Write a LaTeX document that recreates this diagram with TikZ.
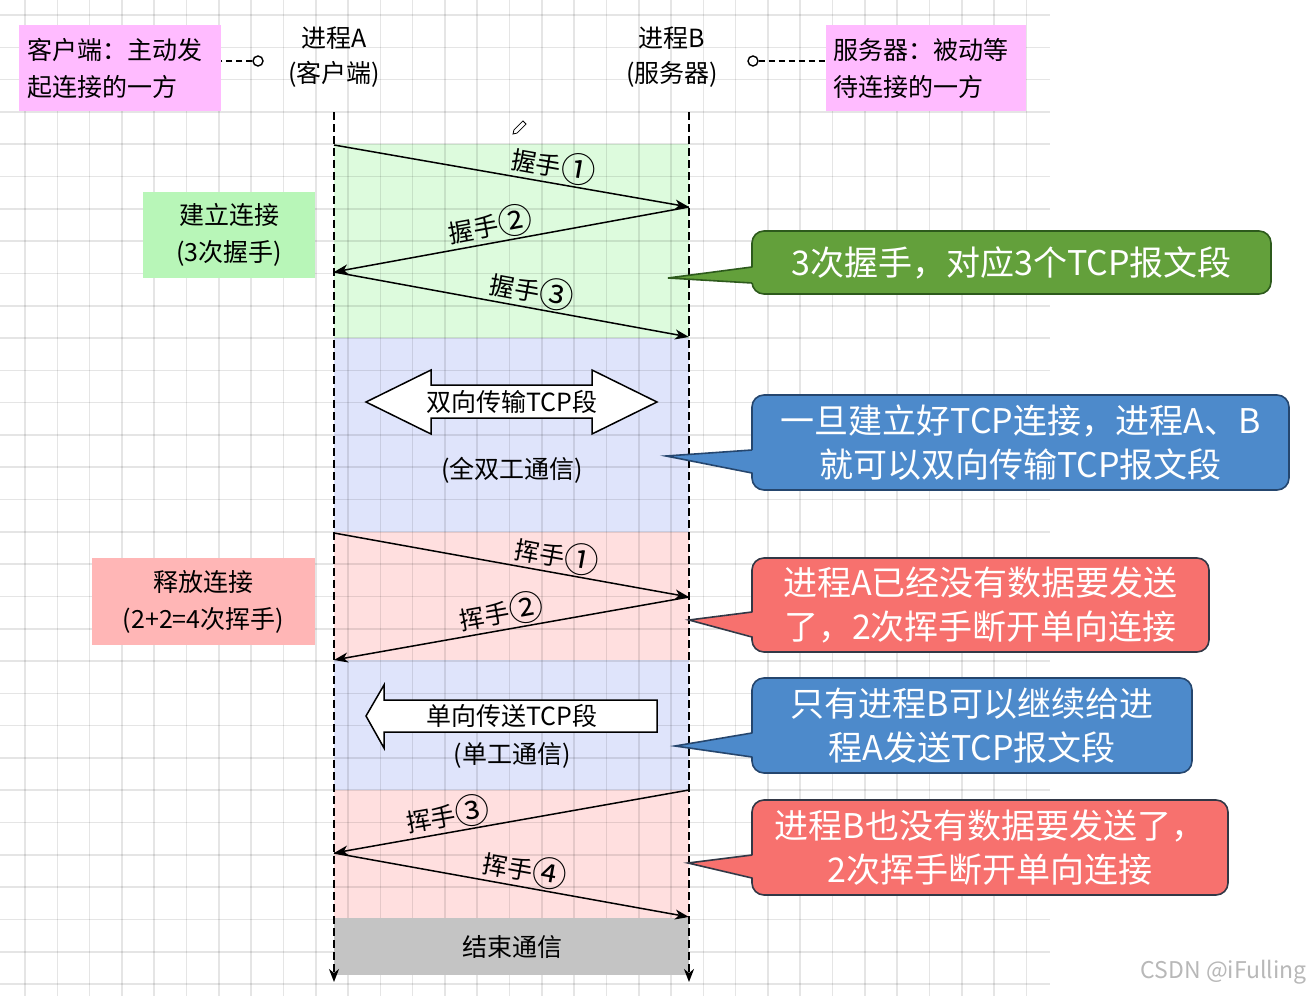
\documentclass[tikz,border=0pt]{standalone}
\usepackage{fontspec}
\usepackage{graphicx}
\setmainfont{Noto Sans CJK SC}
\newcommand\cnum[1]{\raisebox{-0.1em}{\scalebox{1.38}{#1}}}
\usetikzlibrary{arrows.meta}
\definecolor{bandgreen}{RGB}{221,251,221}
\definecolor{bandblue}{RGB}{223,228,251}
\definecolor{bandpink}{RGB}{255,223,223}
\definecolor{bandgray}{RGB}{196,196,196}
\definecolor{boxpink}{RGB}{255,187,255}
\definecolor{boxgreen}{RGB}{184,246,184}
\definecolor{boxred}{RGB}{255,182,182}
\definecolor{cgreen}{RGB}{99,160,59}
\definecolor{cgreenb}{RGB}{45,90,28}
\definecolor{cblue}{RGB}{77,138,203}
\definecolor{cblueb}{RGB}{37,70,110}
\definecolor{cred}{RGB}{247,113,110}
\definecolor{credb}{RGB}{50,56,70}
\begin{document}
\begin{tikzpicture}[x=1pt,y=-1pt,
  gridline/.style={draw=black,draw opacity=0.1,line width=1.6pt},
  lbl/.style={font=\fontsize{25}{35}\selectfont,inner sep=0pt,align=center},
  sidebox/.style={font=\fontsize{25}{37}\selectfont,inner sep=0pt},
  lifeline/.style={line width=1.4pt,dash pattern=on 8pt off 4pt,-{Stealth[length=13pt,width=10pt,inset=4pt]}},
  msg/.style={line width=1.5pt,-{Stealth[length=14pt,width=10pt,inset=4pt]}},
  mlabel/.style={font=\fontsize{25}{25}\selectfont,sloped,above,inner sep=1pt},
  conn/.style={line width=1.4pt,dash pattern=on 6pt off 4pt},
  dot/.style={circle,draw,fill=white,inner sep=0pt,minimum size=10pt,line width=1.4pt},
  callout/.style={rounded corners=12pt,line width=1.6pt,text=white,inner sep=0pt,
    font=\fontsize{34}{44}\selectfont,align=center},
  bigarrow/.style={draw=black,fill=white,line width=1.5pt}
]
\useasboundingbox (0,0) rectangle (1310,996);
\fill[white] (0,0) rectangle (1310,996);
% bands
\fill[bandgreen] (334,144) rectangle (689,338);
\fill[bandblue] (334,338) rectangle (689,532);
\fill[bandpink] (334,532) rectangle (689,660);
\fill[bandblue] (334,660) rectangle (689,790);
\fill[bandpink] (334,790) rectangle (689,918);
% grid
\foreach \i in {0,...,31} \draw[gridline] ({25+32.3*\i},0) -- ({25+32.3*\i},996);
\foreach \j in {0,...,30} \draw[gridline] (0,{15+32.3*\j}) -- (1050,{15+32.3*\j});
\fill[bandgray] (334,918) rectangle (689,975);

% headers
\node[lbl] (hA) at (334,57) {进程A\\(客户端)};
\node[lbl] (hB) at (672,57) {进程B\\(服务器)};

% side boxes
\node[sidebox,fill=boxpink,anchor=north west,minimum width=202pt,minimum height=86pt,text width=186pt,align=left] (boxL) at (19,25) {客户端：主动发\\起连接的一方};
\node[sidebox,fill=boxpink,anchor=north west,minimum width=200pt,minimum height=86pt,text width=186pt,align=left] (boxR) at (826,25) {服务器：被动等\\待连接的一方};
\node[dot] (cL) at (258,61) {};
\node[dot] (cR) at (753,61) {};
\draw[conn] (cL.west) -- (cL.west -| boxL.east);
\draw[conn] (cR.east) -- (cR.east -| boxR.west);

\node[sidebox,fill=boxgreen,minimum width=172pt,minimum height=86pt,align=center] (estab) at (229,235) {建立连接\\(3次握手)};
\node[sidebox,fill=boxred,minimum width=223pt,minimum height=87pt,align=center] (release) at (203.5,601.5) {释放连接\\(2+2=4次挥手)};

% lifelines
\coordinate (Atop) at (334,112);
\coordinate (Abot) at (334,982);
\coordinate (Btop) at (689,112);
\coordinate (Bbot) at (689,982);
\draw[lifeline] (Atop) -- (Abot);
\draw[lifeline] (Btop) -- (Bbot);

% handshake
\coordinate (A1) at (334,145);
\coordinate (B1) at (689,207);
\coordinate (A2) at (334,272);
\coordinate (B2) at (689,337);
\draw[msg] (A1) -- node[mlabel,pos=0.61] {握手\cnum{①}} (B1);
\draw[msg] (B1) -- node[mlabel,pos=0.55] {握手\cnum{②}} (A2);
\draw[msg] (A2) -- node[mlabel,pos=0.55] {握手\cnum{③}} (B2);

% full duplex
\draw[bigarrow] (366,402) -- (431,370) -- (431,385) -- (592,385) -- (592,370) -- (657,402)
  -- (592,434) -- (592,418) -- (431,418) -- (431,434) -- cycle;
\node[lbl] (dup) at (512,402) {双向传输TCP段};
\node[lbl] (dupnote) at (512,470) {(全双工通信)};

% wave 1,2
\coordinate (A3) at (334,533);
\coordinate (B3) at (689,597);
\coordinate (A4) at (334,660);
\draw[msg] (A3) -- node[mlabel,pos=0.62] {挥手\cnum{①}} (B3);
\draw[msg] (B3) -- node[mlabel,pos=0.52] {挥手\cnum{②}} (A4);

% simplex
\draw[bigarrow] (366,716) -- (384,685) -- (384,700) -- (657,700) -- (657,732) -- (384,732) -- (384,748) -- cycle;
\node[lbl] (simp) at (512,716) {单向传送TCP段};
\node[lbl] (simpnote) at (512,755) {(单工通信)};

% wave 3,4
\coordinate (B4) at (689,790);
\coordinate (A5) at (334,853);
\coordinate (B5) at (689,917);
\draw[msg] (B4) -- node[mlabel,pos=0.67] {挥手\cnum{③}} (A5);
\draw[msg] (A5) -- node[mlabel,pos=0.53] {挥手\cnum{④}} (B5);

\node[lbl] (endc) at (512,947) {结束通信};

% pencil
\draw[line width=0.8pt,fill=white] (513,134) -- (517.05,133.05) -- (526.05,124.05) -- (522.95,120.95) -- (513.95,129.95) -- cycle;

% callouts
\node[callout,fill=cgreen,draw=cgreenb,minimum width=519pt,minimum height=63pt] (c1) at (1011.5,262.5) {3次握手，对应3个TCP报文段};
\fill[cgreen] (755,267) -- (668,278) -- (755,283) -- cycle;
\draw[cgreenb,line width=1.6pt] (752,267) -- (668,278) -- (752,283);

\node[callout,fill=cblue,draw=cblueb,minimum width=537pt,minimum height=95pt] (c2) at (1020.5,442.5) {一旦建立好TCP连接，进程A、B\\就可以双向传输TCP报文段};
\fill[cblue] (755,450) -- (666,456) -- (755,473) -- cycle;
\draw[cblueb,line width=1.6pt] (752,450) -- (666,456) -- (752,473);

\node[callout,fill=cred,draw=credb,minimum width=457pt,minimum height=94pt] (c3) at (980.5,605) {进程A已经没有数据要发送\\了，2次挥手断开单向连接};
\fill[cred] (755,612) -- (689,620) -- (755,637) -- cycle;
\draw[credb,line width=1.6pt] (752,612) -- (689,620) -- (752,637);

\node[callout,fill=cblue,draw=cblueb,minimum width=440pt,minimum height=95pt] (c4) at (972,725.5) {只有进程B可以继续给进\\程A发送TCP报文段};
\fill[cblue] (755,733) -- (675,746) -- (755,757) -- cycle;
\draw[cblueb,line width=1.6pt] (752,733) -- (675,746) -- (752,757);

\node[callout,fill=cred,draw=credb,minimum width=476pt,minimum height=95pt] (c5) at (990,847.5) {进程B也没有数据要发送了，\\2次挥手断开单向连接};
\fill[cred] (755,855) -- (688,863) -- (755,878) -- cycle;
\draw[credb,line width=1.6pt] (752,855) -- (688,863) -- (752,878);

% watermark
\node[anchor=east,text=black!28,font=\fontsize{23}{23}\selectfont,inner sep=0pt] (wm) at (1307,972) {CSDN @iFulling};
\end{tikzpicture}
\end{document}
